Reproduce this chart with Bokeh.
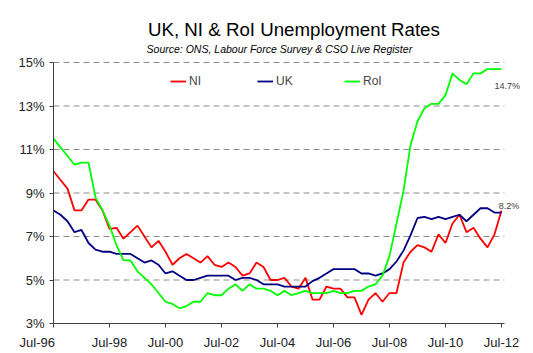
import pandas as pd
from bokeh.plotting import figure
from bokeh.models import (ColumnDataSource, Range1d, FixedTicker, PrintfTickFormatter,
                          Label, Legend, LegendItem)
from bokeh.embed import file_html
from bokeh.resources import INLINE

# Quarterly observations, Jul-96 .. Jul-12
quarters = list(pd.date_range("1996-07-01", periods=65, freq="3MS").strftime("%b-%y"))
tick_labels = ["Jul-96", "Jul-98", "Jul-00", "Jul-02", "Jul-04", "Jul-06", "Jul-08", "Jul-10", "Jul-12"]

ni = [10.0, 9.6, 9.2, 8.2, 8.2, 8.7, 8.7, 8.2, 7.35, 7.4,
      6.9, 7.2, 7.5, 7.0, 6.5, 6.8, 6.3, 5.7, 6.0, 6.2,
      6.0, 5.8, 6.1, 5.7, 5.6, 5.8, 5.6, 5.2, 5.3, 5.8,
      5.6, 5.0, 5.0, 5.1, 4.7, 4.6, 5.1, 4.1, 4.1, 4.7,
      4.6, 4.6, 4.2, 4.2, 3.4, 4.1, 4.4, 4.0, 4.4, 4.4,
      5.8, 6.3, 6.6, 6.5, 6.3, 7.1, 6.7, 7.6, 8.0, 7.2,
      7.4, 6.9, 6.5, 7.1, 8.2]
uk = [8.2, 8.0, 7.7, 7.2, 7.3, 6.7, 6.4, 6.3, 6.3, 6.2,
      6.2, 6.2, 6.0, 5.8, 5.9, 5.7, 5.3, 5.4, 5.2, 5.0,
      5.0, 5.1, 5.2, 5.2, 5.2, 5.2, 5.0, 5.1, 5.1, 5.0,
      4.8, 4.8, 4.8, 4.7, 4.7, 4.7, 4.7, 4.95, 5.1, 5.3,
      5.5, 5.5, 5.5, 5.5, 5.3, 5.3, 5.2, 5.3, 5.5, 5.85,
      6.35, 7.05, 7.85, 7.9, 7.8, 7.9, 7.8, 7.9, 8.0, 7.7,
      8.0, 8.3, 8.3, 8.1, 8.1]
roi = [11.5, 11.1, 10.7, 10.3, 10.4, 10.4, 8.8, 8.2, 7.5, 6.6,
       5.9, 5.9, 5.4, 5.1, 4.8, 4.4, 4.0, 3.9, 3.7, 3.8,
       4.0, 4.0, 4.4, 4.3, 4.3, 4.6, 4.8, 4.5, 4.8, 4.6,
       4.6, 4.5, 4.3, 4.5, 4.3, 4.4, 4.5, 4.4, 4.4, 4.4,
       4.5, 4.4, 4.4, 4.5, 4.5, 4.7, 4.8, 5.2, 6.1, 7.6,
       9.1, 11.2, 12.3, 12.9, 13.1, 13.1, 13.5, 14.5, 14.2, 14.0,
       14.5, 14.5, 14.7, 14.7, 14.7]
y_ticks = [3, 5, 7, 9, 11, 13, 15]
end_labels = ["14.7%", "8.2%"]

FONT = "Liberation Sans"
PX_PER_Q = 7.0      # pixels per quarter
PX_PER_PCT = 21.75  # pixels per percentage point
X_END = 64.4        # end of the axis / grid
FRAME_TOP_PX = 5    # frame extended upward so titles fit inside it
AXIS_TOP_PX = 62
NBSP = "\u00a0"

src = ColumnDataSource(dict(x=list(range(len(quarters))), q=quarters, ni=ni, uk=uk, roi=roi))

y_top = y_ticks[-1] + (AXIS_TOP_PX - FRAME_TOP_PX) / PX_PER_PCT
x_end_frame = 470 / PX_PER_Q

p = figure(width=533, height=353, output_backend="svg", toolbar_location=None,
           x_range=Range1d(0, x_end_frame), y_range=Range1d(y_ticks[0], y_top),
           min_border_left=53, min_border_right=10, min_border_top=FRAME_TOP_PX, min_border_bottom=30)
p.outline_line_color = None
p.background_fill_color = "white"
p.border_fill_color = "white"

# axes
tick_pos = [quarters.index(t) for t in tick_labels]
p.xaxis.ticker = FixedTicker(ticks=tick_pos)
overrides = {i: t for i, t in zip(tick_pos, tick_labels)}
# first label sits left of the axis corner, as in the original
overrides[tick_pos[0]] = tick_labels[0] + NBSP * 9
p.xaxis.major_label_overrides = overrides
p.xaxis.bounds = (0, X_END)
p.yaxis.ticker = FixedTicker(ticks=y_ticks)
p.yaxis.formatter = PrintfTickFormatter(format="%d%%")
p.yaxis.bounds = (y_ticks[0], y_ticks[-1])
for ax in (p.xaxis, p.yaxis):
    ax.axis_line_color = "#404040"
    ax.axis_line_width = 1
    ax.major_tick_line_color = "#404040"
    ax.major_tick_in = 0
    ax.major_tick_out = 4
    ax.minor_tick_line_color = None
    ax.major_label_text_font = FONT
    ax.major_label_text_color = "#222222"
p.yaxis.major_label_text_font_size = "13px"
p.xaxis.major_label_text_font_size = "13px"
p.xaxis.major_label_standoff = 7
p.yaxis.major_label_standoff = 5

# horizontal dashed gridlines, limited to the axis extent
p.xgrid.grid_line_color = None
p.ygrid.grid_line_color = None
gy = y_ticks[1:]
p.segment(x0=[0] * len(gy), x1=[X_END] * len(gy), y0=gy, y1=gy,
          line_color="#8c8c8c", line_dash="6 4", line_width=1)

r_ni = p.line("x", "ni", source=src, line_color="#FF0000", line_width=1.8)
r_uk = p.line("x", "uk", source=src, line_color="#000080", line_width=1.8)
r_roi = p.line("x", "roi", source=src, line_color="#00FF00", line_width=1.8)

legend = Legend(items=[LegendItem(label="NI", renderers=[r_ni]),
                       LegendItem(label="UK", renderers=[r_uk]),
                       LegendItem(label="RoI", renderers=[r_roi])],
                orientation="horizontal", location=(117, 235),
                padding=0, margin=0, spacing=6, glyph_width=16, glyph_height=14,
                label_height=14, label_width=62, label_standoff=3,
                label_text_font=FONT, label_text_font_size="12px",
                border_line_color=None, background_fill_alpha=0)
p.add_layout(legend, "center")

# end-value labels
p.add_layout(Label(x=63.0, y=13.9, text=end_labels[0], text_font=FONT, text_font_size="9px",
                   text_color="#404040", text_baseline="middle", text_align="left"))
p.add_layout(Label(x=63.6, y=8.38, text=end_labels[1], text_font=FONT, text_font_size="9px",
                   text_color="#404040", text_baseline="middle", text_align="left"))

# titles
p.add_layout(Label(x=13.5, y=15 + (AXIS_TOP_PX - 29) / PX_PER_PCT, text="UK, NI & RoI Unemployment Rates",
                   text_font=FONT, text_font_size="18.7px", text_color="black",
                   text_baseline="alphabetic", text_align="left"))
p.add_layout(Label(x=13.3, y=15 + (AXIS_TOP_PX - 48) / PX_PER_PCT,
                   text="Source: ONS, Labour Force Survey & CSO Live Register",
                   text_font=FONT, text_font_size="10.5px", text_font_style="italic", text_color="black",
                   text_baseline="alphabetic", text_align="left"))

open("out.html", "w").write(file_html(p, INLINE))
